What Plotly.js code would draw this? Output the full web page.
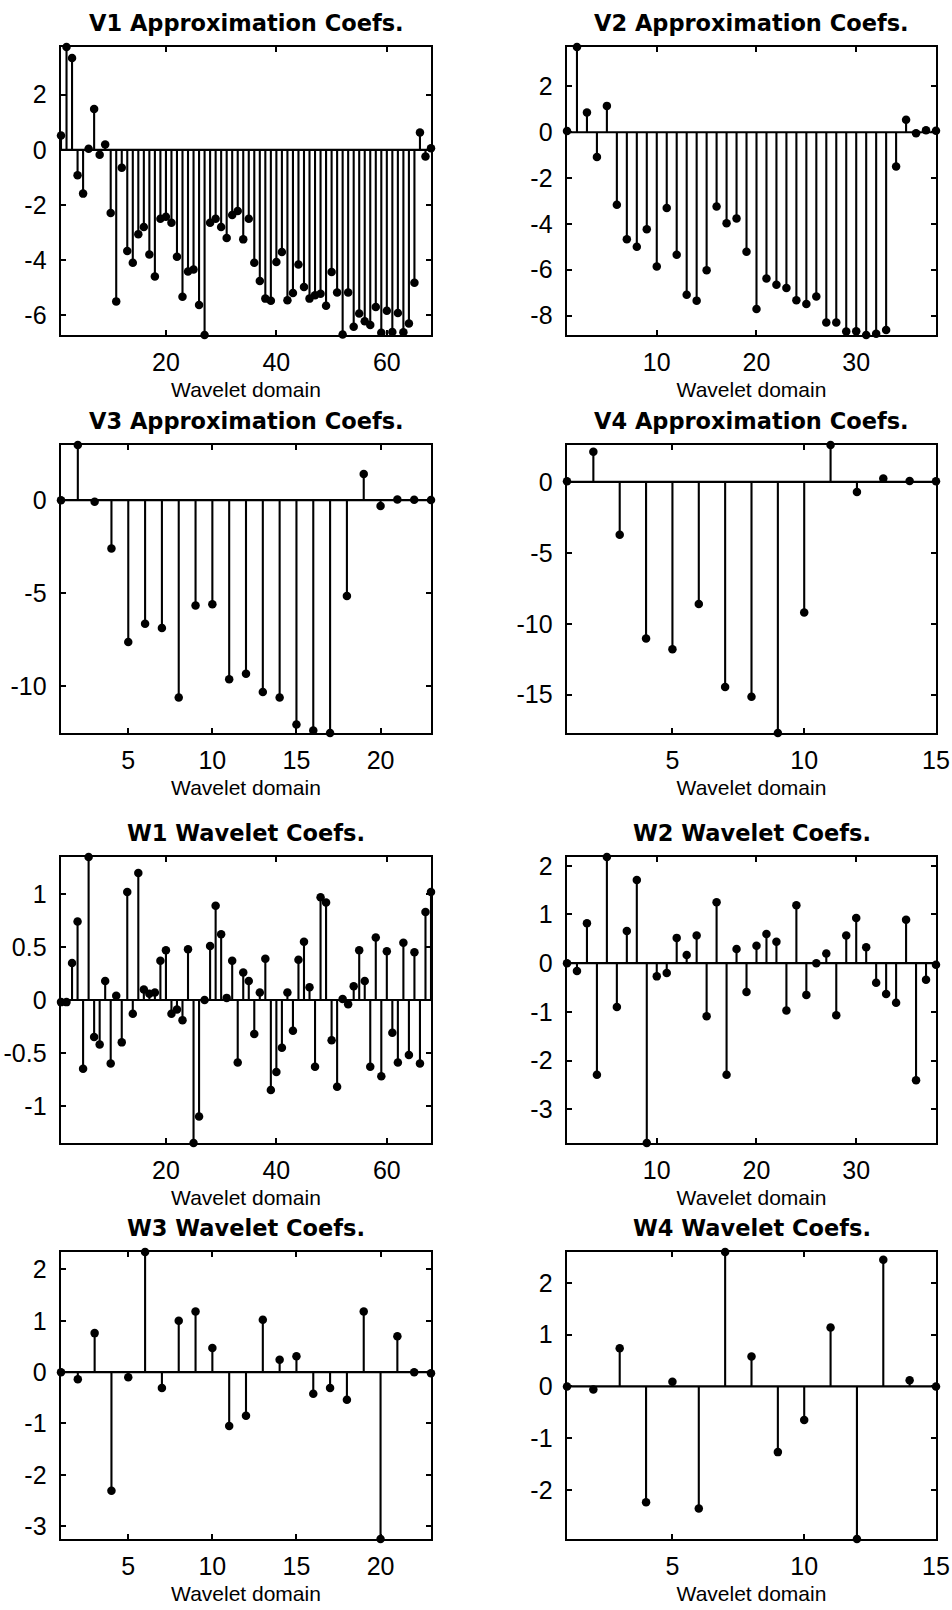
<!DOCTYPE html>
<html>
<head>
<meta charset="utf-8">
<script src="https://cdn.plot.ly/plotly-3.0.1.min.js"></script>
<style>html,body{margin:0;padding:0;background:#fff;}#chart{width:952px;height:1610px;}</style>
</head>
<body>
<div id="chart"></div>
<script>
// ---- Data ----
const V1 = [0.52, 3.73, 3.33, -0.92, -1.59, 0.04, 1.48, -0.18, 0.19, -2.29,
  -5.5, -0.65, -3.67, -4.1, -3.06, -2.8, -3.8, -4.6, -2.5, -2.43,
  -2.65, -3.88, -5.33, -4.42, -4.34, -5.63, -6.72, -2.65, -2.5, -2.8,
  -3.2, -2.37, -2.22, -3.25, -2.5, -4.1, -4.76, -5.4, -5.48, -4.07,
  -3.71, -5.46, -5.2, -4.16, -4.98, -5.4, -5.28, -5.22, -5.66, -4.43,
  -5.18, -6.7, -5.18, -6.42, -5.94, -6.22, -6.36, -5.7, -6.64, -5.84,
  -6.61, -5.92, -6.62, -6.3, -4.82, 0.63, -0.24, 0.06];
const V2 = [0.05, 3.72, 0.86, -1.08, 1.15, -3.17, -4.67, -5.0, -4.23, -5.86,
  -3.31, -5.35, -7.09, -7.35, -6.02, -3.24, -3.97, -3.76, -5.22, -7.72,
  -6.38, -6.66, -6.8, -7.33, -7.5, -7.17, -8.3, -8.3, -8.7, -8.69,
  -8.85, -8.8, -8.63, -1.5, 0.54, -0.04, 0.09, 0.06];
const V3 = [0.0, 2.96, -0.09, -2.6, -7.62, -6.63, -6.86, -10.6, -5.65, -5.59,
  -9.62, -9.32, -10.3, -10.6, -12.04, -12.37, -12.5, -5.14, 1.4, -0.32,
  0.03, 0.02, 0.01];
const V4 = [0.05, 2.12, -3.73, -11.04, -11.79, -8.6, -14.46, -15.14, -17.7, -9.2,
  2.6, -0.71, 0.24, 0.07, 0.05];
const W1 = [-0.02, -0.02, 0.35, 0.74, -0.65, 1.35, -0.35, -0.42, 0.18, -0.6,
  0.04, -0.4, 1.02, -0.13, 1.2, 0.1, 0.06, 0.07, 0.37, 0.47,
  -0.13, -0.09, -0.19, 0.48, -1.35, -1.1, 0.0, 0.51, 0.89, 0.62,
  0.02, 0.37, -0.59, 0.26, 0.18, -0.32, 0.07, 0.39, -0.85, -0.68,
  -0.45, 0.07, -0.29, 0.38, 0.55, 0.12, -0.63, 0.97, 0.92, -0.38,
  -0.82, 0.01, -0.04, 0.13, 0.47, 0.18, -0.63, 0.59, -0.72, 0.46,
  -0.31, -0.59, 0.54, -0.52, 0.45, -0.6, 0.83, 1.02];
const W2 = [0.0, -0.16, 0.82, -2.29, 2.18, -0.9, 0.66, 1.71, -3.69, -0.27,
  -0.2, 0.52, 0.17, 0.57, -1.09, 1.25, -2.29, 0.29, -0.59, 0.36,
  0.6, 0.44, -0.97, 1.19, -0.65, 0.0, 0.2, -1.07, 0.57, 0.93,
  0.33, -0.4, -0.63, -0.81, 0.89, -2.4, -0.34, -0.03];
const W3 = [0.0, -0.14, 0.76, -2.31, -0.1, 2.34, -0.31, 1.0, 1.18, 0.47,
  -1.05, -0.85, 1.02, 0.24, 0.31, -0.42, -0.31, -0.54, 1.18, -3.25,
  0.7, 0.0, -0.02];
const W4 = [0.0, -0.06, 0.74, -2.24, 0.09, -2.36, 2.6, 0.58, -1.27, -0.65,
  1.14, -2.95, 2.45, 0.12, 0.0];

// ---- Titles and tick labels ----
const titles = ['V1 Approximation Coefs.', 'V2 Approximation Coefs.',
  'V3 Approximation Coefs.', 'V4 Approximation Coefs.',
  'W1 Wavelet Coefs.', 'W2 Wavelet Coefs.', 'W3 Wavelet Coefs.', 'W4 Wavelet Coefs.'];
const xLabel = 'Wavelet domain';
const V1_xticks = [20, 40, 60], V1_yticks = [-6, -4, -2, 0, 2];
const V2_xticks = [10, 20, 30], V2_yticks = [-8, -6, -4, -2, 0, 2];
const V3_xticks = [5, 10, 15, 20], V3_yticks = [-10, -5, 0];
const V4_xticks = [5, 10, 15], V4_yticks = [-15, -10, -5, 0];
const W1_xticks = [20, 40, 60], W1_yticks = [-1, -0.5, 0, 0.5, 1];
const W2_xticks = [10, 20, 30], W2_yticks = [-3, -2, -1, 0, 1, 2];
const W3_xticks = [5, 10, 15, 20], W3_yticks = [-3, -2, -1, 0, 1, 2];
const W4_xticks = [5, 10, 15], W4_yticks = [-2, -1, 0, 1, 2];

const series = [V1, V2, V3, V4, W1, W2, W3, W4];
const xticksAll = [V1_xticks, V2_xticks, V3_xticks, V4_xticks, W1_xticks, W2_xticks, W3_xticks, W4_xticks];
const yticksAll = [V1_yticks, V2_yticks, V3_yticks, V4_yticks, W1_yticks, W2_yticks, W3_yticks, W4_yticks];

// ---- Layout geometry (pixels) ----
const W = 952, H = 1610;
const colX = [[61, 431], [567, 936]];
const rowY = [[47, 335], [445, 733], [857, 1143], [1252, 1539]];

const tickFont = {family: 'Liberation Sans, Arial, sans-serif', size: 25, color: '#000'};
const labFont = {family: 'Liberation Sans, Arial, sans-serif', size: 21, color: '#000'};
const titleFont = {family: 'DejaVu Sans, sans-serif', size: 22.5, color: '#000'};

const traces = [];
const layout = {
  width: W, height: H,
  margin: {l: 0, r: 0, t: 0, b: 0},
  paper_bgcolor: '#fff', plot_bgcolor: '#fff',
  showlegend: false,
  annotations: []
};

series.forEach((d, k) => {
  const n = k + 1;
  const xa = n === 1 ? 'x' : 'x' + n;
  const ya = n === 1 ? 'y' : 'y' + n;
  const col = k % 2, row = Math.floor(k / 2);
  const [px0, px1] = colX[col];
  const [py0, py1] = rowY[row];
  const idx = d.map((_, i) => i + 1);
  const N = d.length;

  // baseline
  traces.push({type: 'scatter', mode: 'lines', x: [1, N], y: [0, 0], xaxis: xa, yaxis: ya,
    line: {color: '#000', width: 2.2}, hoverinfo: 'skip'});
  // stems
  const sx = [], sy = [];
  d.forEach((v, i) => { sx.push(idx[i], idx[i], null); sy.push(0, v, null); });
  traces.push({type: 'scatter', mode: 'lines', x: sx, y: sy, xaxis: xa, yaxis: ya,
    line: {color: '#000', width: 2.1}, hoverinfo: 'skip'});
  // heads
  traces.push({type: 'scatter', mode: 'markers', x: idx, y: d, xaxis: xa, yaxis: ya,
    marker: {color: '#000', size: 8.5, symbol: 'circle'}, cliponaxis: false});

  const ymin = Math.min(...d), ymax = Math.max(...d);
  const xt = xticksAll[k], yt = yticksAll[k];
  const axCommon = {
    showline: true, mirror: 'ticks', linecolor: '#000', linewidth: 2.4,
    ticks: 'inside', ticklen: 5, tickwidth: 2, tickcolor: '#000',
    showgrid: false, zeroline: false, tickfont: tickFont, fixedrange: true
  };
  layout[xa.replace('x', 'xaxis')] = Object.assign({}, axCommon, {
    domain: [px0 / W, px1 / W], anchor: ya, range: [1, N],
    tickmode: 'array', tickvals: xt, ticktext: xt.map(String),
    ticklabelstandoff: 4,
    title: {text: xLabel, font: labFont, standoff: 7}
  });
  layout[ya.replace('y', 'yaxis')] = Object.assign({}, axCommon, {
    domain: [1 - py1 / H, 1 - py0 / H], anchor: xa, range: [ymin, ymax],
    tickmode: 'array', tickvals: yt, ticktext: yt.map(String),
    ticklabelstandoff: 7
  });
  layout.annotations.push({
    xref: 'paper', yref: 'paper', x: (px0 + px1) / 2 / W, y: 1 - (py0 - 24) / H,
    xanchor: 'center', yanchor: 'middle', showarrow: false,
    text: '<b>' + titles[k] + '</b>', font: titleFont
  });
});

Plotly.newPlot('chart', traces, layout, {staticPlot: true, displayModeBar: false});
</script>
</body>
</html>
